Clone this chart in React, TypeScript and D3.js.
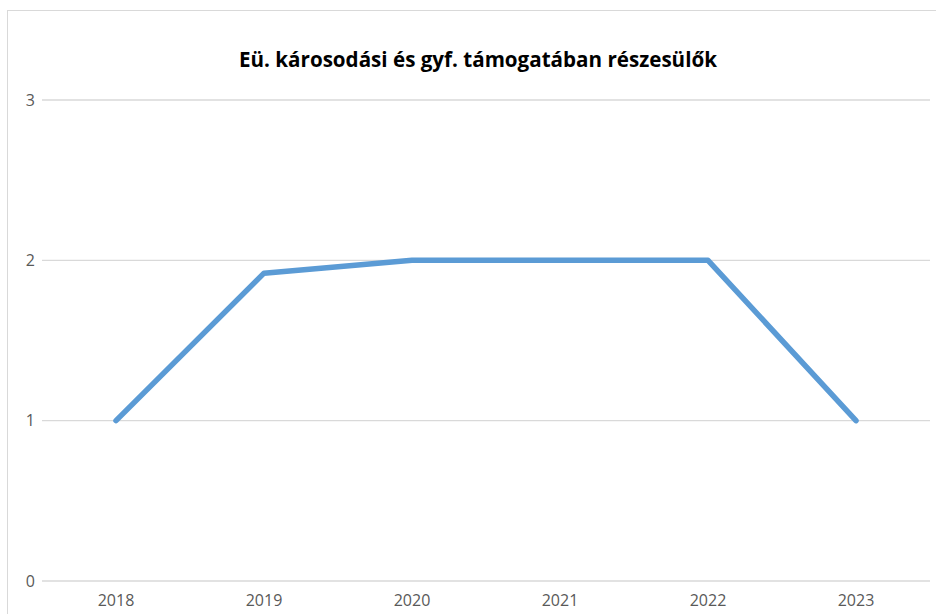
import React from "react";
import * as d3 from "d3";

const years = ["2018", "2019", "2020", "2021", "2022", "2023"];
const values = [1, 1.92, 2, 2, 2, 1];
const yTicks = [0, 1, 2, 3];
const title = "Eü. károsodási és gyf. támogatában részesülők";

export default function App() {
  const W = 936, H = 614;
  const left = 42, right = 930, top = 100, bottom = 581;
  const x = d3.scaleBand<string>().domain(years).range([left, right]);
  const y = d3.scaleLinear().domain([0, 3]).range([bottom, top]);
  const line = d3
    .line<number>()
    .x((_, i) => (x(years[i]) as number) + x.bandwidth() / 2)
    .y((d) => y(d));
  const font = "'Open Sans', 'Liberation Sans', sans-serif";
  return (
    <svg width={W} height={H} style={{ position: "absolute", left: 0, top: 0, background: "#fff" }}>
      <rect x={7.5} y={10.5} width={W + 20} height={H + 20} fill="#fff" stroke="#d9d9d9" strokeWidth={1} />
      <text x={478} y={67} textAnchor="middle" fontFamily={font} fontWeight="bold" fontSize={20.6} fill="#000">
        {title}
      </text>
      {yTicks.map((t) => (
        <g key={t}>
          <line x1={left} x2={right} y1={y(t)} y2={y(t)} stroke="#d9d9d9" strokeWidth={1.3} />
          <text x={35} y={y(t)} dy="0.35em" textAnchor="end" fontFamily={font} fontSize={16} fill="#595959">
            {t}
          </text>
        </g>
      ))}
      {years.map((yr) => (
        <text key={yr} x={(x(yr) as number) + x.bandwidth() / 2} y={606} textAnchor="middle" fontFamily={font} fontSize={16} fill="#595959">
          {yr}
        </text>
      ))}
      <path d={line(values) || ""} fill="none" stroke="#5B9BD5" strokeWidth={5.5} strokeLinejoin="round" strokeLinecap="round" />
    </svg>
  );
}
